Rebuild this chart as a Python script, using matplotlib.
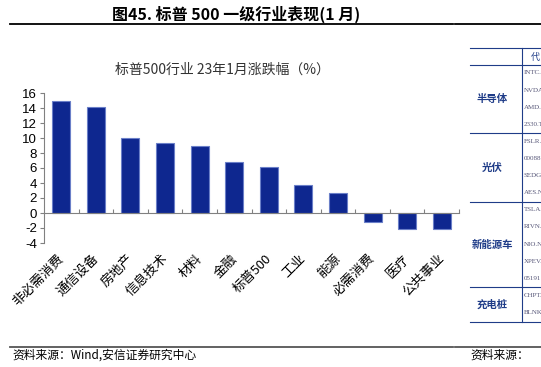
import matplotlib
matplotlib.use("Agg")
import matplotlib.pyplot as plt
from matplotlib.lines import Line2D

plt.rcParams['font.family'] = ['Noto Sans CJK SC', 'DejaVu Sans']

categories = ["非必需消费", "通信设备", "房地产", "信息技术", "材料", "金融", "标普500",
              "工业", "能源", "必需消费", "医疗", "公共事业"]
values = [15.0, 14.2, 10.0, 9.3, 9.0, 6.8, 6.2, 3.7, 2.7, -1.2, -2.1, -2.1]
yticks = [-4, -2, 0, 2, 4, 6, 8, 10, 12, 14, 16]

table_groups = ["半导体", "光伏", "新能源车", "充电桩"]
table_codes = [["INTC.O", "NVDA.O", "AMD.O", "2330.TW"],
               ["FSLR.O", "00088", "SEDG.O", "AES.N"],
               ["TSLA.O", "RIVN.O", "NIO.N", "XPEV.N", "05191"],
               ["CHPT.N", "BLNK.O"]]

W, H = 541, 367
fig = plt.figure(figsize=(W / 100, H / 100), dpi=100)

def fx(px):
    return px / W

def fy(py):
    return 1 - py / H

ax = fig.add_axes([fx(44), fy(243), 415 / W, 150 / H])
x = list(range(len(categories)))
ax.bar(x, values, width=0.52, color="#0E278F", edgecolor="#6A7FC8", linewidth=0.8, zorder=3)
ax.set_xlim(-0.5, len(categories) - 0.5)
ax.set_ylim(-4, 16)
ax.set_yticks(yticks)
ax.set_yticklabels([str(v) for v in yticks], fontsize=9.5, family=['Liberation Sans', 'DejaVu Sans'])
for s in ['top', 'right']:
    ax.spines[s].set_visible(False)
ax.spines['left'].set_color('#808080')
ax.spines['bottom'].set_color('#808080')
ax.spines['bottom'].set_position(('data', 0))
ax.spines['bottom'].set_zorder(4)
ax.set_xticks([i + 0.5 for i in x])
ax.tick_params(axis='x', direction='in', length=3, color='#808080', labelbottom=False)
ax.tick_params(axis='y', direction='out', length=3, color='#808080', pad=2)
for i, c in enumerate(categories):
    ax.text(i + 0.15, -0.06, c, transform=ax.get_xaxis_transform(), rotation=45,
            ha='right', va='top', fontsize=9.5)
ax.set_title("标普500行业 23年1月涨跌幅（%）", fontsize=10, color='#333333', y=1.07, x=0.43)

# figure header / footer
fig.text(fx(236), fy(14), "图45. 标普 500 一级行业表现(1 月)", ha='center', va='center',
         fontsize=11.5, fontweight='bold')
for (x0, x1) in [(10, 453), (455, 541)]:
    fig.add_artist(Line2D([fx(x0), fx(x1)], [fy(23.5), fy(23.5)], color='black', lw=1.3))
    fig.add_artist(Line2D([fx(x0), fx(x1)], [fy(347), fy(347)], color='#555555', lw=1.3))
fig.text(fx(12), fy(355), "资料来源：Wind,安信证券研究中心", ha='left', va='center', fontsize=8.5,
         style='italic')
fig.text(fx(470), fy(355), "资料来源：", ha='left', va='center', fontsize=8.5, style='italic')

# cropped table on the right
blue = "#1F3C88"
fig.add_artist(Line2D([fx(470), fx(541)], [fy(48), fy(48)], color=blue, lw=0.8))
fig.add_artist(Line2D([fx(470), fx(541)], [fy(65), fy(65)], color=blue, lw=0.8))
fig.add_artist(Line2D([fx(522), fx(522)], [fy(48), fy(322)], color=blue, lw=0.8))
fig.text(fx(535), fy(57), "代", ha='center', va='center', fontsize=6.5, color=blue)
row_h = 17.1
y = 65
for g, codes in zip(table_groups, table_codes):
    y_end = y + row_h * len(codes)
    fig.text(fx(492), fy((y + y_end) / 2), g, ha='center', va='center', fontsize=7.5,
             fontweight='bold', color=blue)
    for k, cd in enumerate(codes):
        fig.text(fx(524), fy(y + 8 + k * row_h), cd, ha='left', va='center', fontsize=5,
                 color='#555577', family=['Liberation Serif', 'DejaVu Serif'])
    fig.add_artist(Line2D([fx(470), fx(541)], [fy(y_end), fy(y_end)], color=blue, lw=0.8))
    y = y_end

fig.savefig("out.png", dpi=100)
